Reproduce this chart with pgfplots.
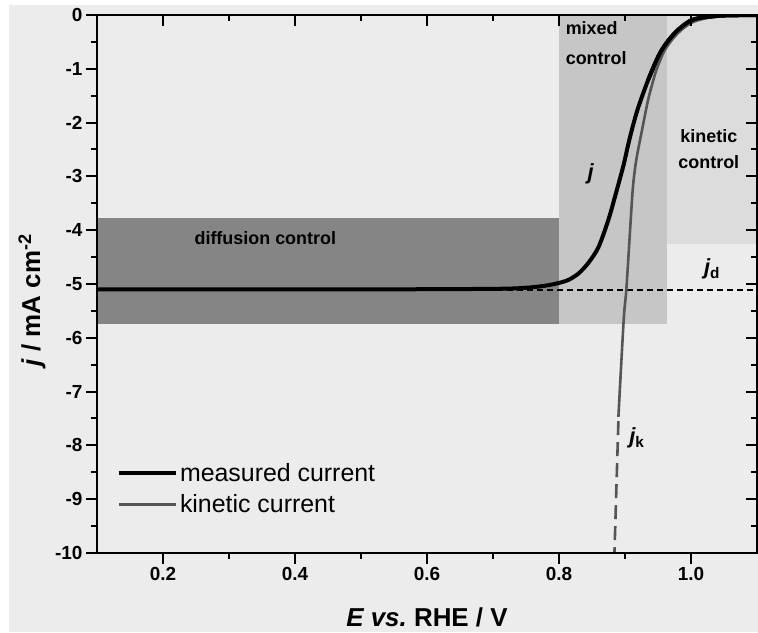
\documentclass[border=0pt]{standalone}
\usepackage{pgfplots}
\pgfplotsset{compat=1.18}
\usepackage{fontspec}
\setmainfont{Liberation Sans}
\definecolor{bgc}{HTML}{ECECEC}
\definecolor{diffc}{HTML}{858585}
\definecolor{mixc}{HTML}{C6C6C6}
\definecolor{kinc}{HTML}{DCDCDC}
\definecolor{kline}{HTML}{555555}
\begin{document}
\begin{tikzpicture}
\fill[white] (-97bp,-80bp) rectangle (661bp,553bp);
\fill[bgc] (-88bp,-79bp) rectangle (661bp,548bp);
\begin{axis}[
  at={(0,0)}, anchor=south west,
  scale only axis, width=660bp, height=538bp,
  xmin=0.1, xmax=1.1, ymin=-10, ymax=0,
  axis background/.style={fill=bgc},
  axis on top,
  xtick={0.2,0.4,0.6,0.8,1.0},
  ytick={-10,-9,-8,-7,-6,-5,-4,-3,-2,-1,0},
  minor tick num=1,
  xtick pos=left, ytick pos=left, tick align=outside,
  major tick length=11bp, minor tick length=6bp,
  every tick/.style={black, line width=2bp},
  axis line style={line width=2.5bp},
  /pgf/number format/assume math mode=true,
  ticklabel style={font=\bfseries\fontsize{19}{19}\selectfont},
  xticklabel style={/pgf/number format/.cd, fixed, fixed zerofill, precision=1},
  xlabel={\textbf{\textit{E vs.}\ RHE / V}},
  xlabel style={at={(axis description cs:0.5,-0.119)}, anchor=center, font=\fontsize{26}{26}\selectfont},
  ylabel={\textbf{\textit{j} / mA cm\textsuperscript{-2}}},
  ylabel style={at={(axis description cs:-0.0985,0.47)}, anchor=center, font=\fontsize{26}{26}\selectfont},
  legend style={at={(axis cs:0.1255,-8.25)}, anchor=north west, draw=none, fill=none,
    font=\fontsize{25}{25}\selectfont, row sep=8bp},
  legend cell align=left,
  legend image code/.code={\draw[#1] (0bp,0bp) -- (57bp,0bp);},
]
% shaded regions
\addplot[fill=diffc, draw=none, forget plot] coordinates {(0.1,-3.77) (0.8,-3.77) (0.8,-5.75) (0.1,-5.75)} -- cycle;
\addplot[fill=mixc, draw=none, forget plot] coordinates {(0.8,0) (0.963,0) (0.963,-5.75) (0.8,-5.75)} -- cycle;
\addplot[fill=kinc, draw=none, forget plot] coordinates {(0.963,0) (1.1,0) (1.1,-4.25) (0.963,-4.25)} -- cycle;
% j_d dashed line
\addplot[black, line width=1.5bp, dash pattern=on 6bp off 4bp, forget plot] coordinates {(0.1,-5.11) (1.1,-5.11)};
% measured current
\addplot[black, line width=4bp, smooth, tension=0.5] coordinates {
(0.10,-5.10) (0.50,-5.10) (0.70,-5.09) (0.75,-5.07) (0.78,-5.03) (0.80,-4.98)
(0.815,-4.92) (0.83,-4.80) (0.845,-4.60) (0.86,-4.31) (0.875,-3.80) (0.887,-3.28)
(0.898,-2.78) (0.905,-2.40) (0.912,-2.06) (0.920,-1.72) (0.935,-1.21) (0.950,-0.78)
(0.960,-0.57) (0.970,-0.41) (0.980,-0.28) (0.991,-0.17) (1.000,-0.10) (1.011,-0.06)
(1.030,-0.03) (1.050,-0.01) (1.10,0.0)};
\addlegendentry{measured current}
% kinetic current
\addplot[kline, line width=2.6bp, smooth, tension=0.5] coordinates {
(1.10,0) (1.05,-0.01) (1.03,-0.04) (1.01,-0.10) (1.00,-0.15) (0.99,-0.23) (0.98,-0.34)
(0.97,-0.48) (0.96,-0.66) (0.953,-0.85) (0.946,-1.08) (0.935,-1.58) (0.925,-2.19)
(0.917,-2.70) (0.912,-3.20) (0.908,-3.94) (0.902,-5.11) (0.898,-5.67) (0.890,-7.47)};
\addlegendentry{kinetic current}
\addplot[kline, line width=2.6bp, dash pattern=on 14bp off 7bp, forget plot] coordinates {(0.890,-7.55) (0.884,-10)};
% redraw top part of measured over kinetic
\addplot[black, line width=4bp, smooth, tension=0.5, forget plot] coordinates {
(0.935,-1.21) (0.950,-0.78) (0.960,-0.57) (0.970,-0.41) (0.980,-0.28) (0.991,-0.17)
(1.000,-0.10) (1.011,-0.06) (1.030,-0.03) (1.050,-0.01) (1.10,0.0)};
% labels
\node[font=\bfseries\fontsize{18}{18}\selectfont] at (axis cs:0.355,-4.145) {diffusion control};
\node[font=\bfseries\fontsize{18}{30}\selectfont, align=left, anchor=north west, inner sep=0pt] at (axis cs:0.810,-0.12) {mixed\\control};
\node[font=\bfseries\fontsize{18}{26}\selectfont, align=center] at (axis cs:1.027,-2.50) {kinetic\\control};
\node[font=\bfseries\itshape\fontsize{22}{22}\selectfont] at (axis cs:0.848,-2.95) {j};
\node[font=\bfseries\itshape\fontsize{22}{22}\selectfont] at (axis cs:1.032,-4.72) {j\textsubscript{\upshape d}};
\node[font=\bfseries\itshape\fontsize{22}{22}\selectfont] at (axis cs:0.918,-7.86) {j\textsubscript{\upshape k}};
\end{axis}
\begin{axis}[
  at={(0,0)}, anchor=south west,
  scale only axis, width=660bp, height=538bp,
  xmin=0.1, xmax=1.1, ymin=-10, ymax=0,
  xtick={0.2,0.4,0.6,0.8,1.0},
  ytick={-10,-9,-8,-7,-6,-5,-4,-3,-2,-1,0},
  minor tick num=1,
  xtick pos=right, ytick pos=right, tick align=inside,
  major tick length=11bp, minor tick length=6bp,
  every tick/.style={black, line width=2bp},
  axis line style={line width=2.5bp},
  xticklabels={}, yticklabels={},
]
\end{axis}
\pgfresetboundingbox
\useasboundingbox (-97bp,-80bp) rectangle (661bp,553bp);
\end{tikzpicture}
\end{document}
